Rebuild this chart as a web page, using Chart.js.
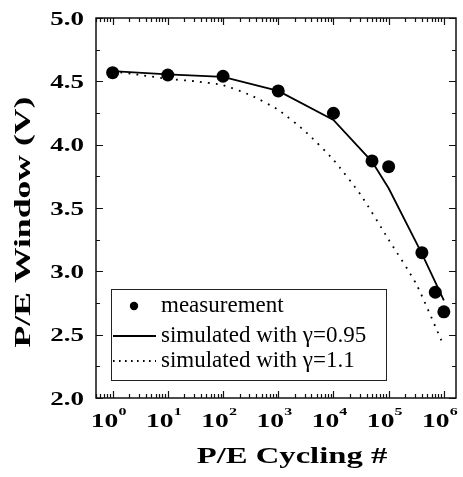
<!DOCTYPE html>
<html>
<head>
<meta charset="utf-8">
<script src="https://cdn.jsdelivr.net/npm/chart.js@4.4.1/dist/chart.umd.min.js"></script>
<style>
  html, body { margin: 0; padding: 0; background: #fff; }
</style>
</head>
<body>
<canvas id="chart" width="463" height="477"></canvas>
<script>
// ---------------- Data ----------------
const measCycles = [1, 10, 100, 1000, 10000, 50000, 100000, 400000, 700000, 1000000];
const measWindow = [4.568, 4.55, 4.54, 4.424, 4.248, 3.872, 3.826, 3.147, 2.835, 2.68];

const sim095Cycles = [1, 10, 100, 1000, 10000, 50000, 100000, 400000, 1000000];
const sim095Window = [4.58, 4.555, 4.535, 4.424, 4.195, 3.866, 3.656, 3.14, 2.77];

const sim11Cycles = [1, 3.16, 10, 31.6, 100, 316, 1000, 3162, 10000, 31623, 100000, 316228, 1000000];
const sim11Window = [4.58, 4.55, 4.52, 4.50, 4.47, 4.39, 4.275, 4.10, 3.88, 3.60, 3.25, 2.90, 2.41];

const seriesLabels = ["measurement", "simulated with \u03B3=0.95", "simulated with \u03B3=1.1"];
const xTitle = "P/E Cycling #";
const yTitle = "P/E Window (V)";

// ---------------- Helpers ----------------
function toPoints(xs, ys) {
  return xs.map((x, i) => ({ x: x, y: ys[i] }));
}

function decadeOf(v) {
  const e = Math.round(Math.log10(v));
  return Math.abs(v - Math.pow(10, e)) < 1e-9 * Math.pow(10, e) ? e : null;
}

function logKind(v) {
  const e = Math.floor(Math.log10(v) + 1e-9);
  const sig = v / Math.pow(10, e);
  if (Math.abs(sig - Math.round(sig)) > 1e-6) return null;
  return Math.round(sig) === 1 ? "major" : "minor";
}

function isHalf(v) {
  return Math.abs(v * 2 - Math.round(v * 2)) < 1e-6;
}

// ---------------- Plugins ----------------
const frameTicks = {
  id: "frameTicks",
  afterDatasetsDraw(chart) {
    const ctx = chart.ctx;
    const a = chart.chartArea;
    const xs = chart.scales.x, ys = chart.scales.y;
    ctx.save();
    ctx.strokeStyle = "#111";
    ctx.lineWidth = 1.2;

    xs.ticks.forEach(t => {
      const kind = logKind(t.value);
      if (!kind) return;
      const px = Math.round(xs.getPixelForValue(t.value)) + 0.5;
      if (px < a.left || px > a.right) return;
      const len = kind === "major" ? 7 : 4;
      ctx.beginPath();
      ctx.moveTo(px, a.bottom); ctx.lineTo(px, a.bottom - len);
      ctx.moveTo(px, a.top); ctx.lineTo(px, a.top + len);
      ctx.stroke();
    });

    ys.ticks.forEach(t => {
      const py = Math.round(ys.getPixelForValue(t.value)) + 0.5;
      const len = isHalf(t.value) ? 7 : 4;
      ctx.beginPath();
      ctx.moveTo(a.left, py); ctx.lineTo(a.left + len, py);
      ctx.moveTo(a.right, py); ctx.lineTo(a.right - len, py);
      ctx.stroke();
    });

    ctx.lineWidth = 1.5;
    ctx.strokeRect(a.left, a.top, a.right - a.left, a.bottom - a.top);
    ctx.restore();
  }
};

// tick labels in a wide bold serif, placed from the scales' own ticks
const tickLabels = {
  id: "tickLabels",
  afterDraw(chart) {
    const ctx = chart.ctx;
    const a = chart.chartArea;
    const xs = chart.scales.x, ys = chart.scales.y;
    ctx.save();
    ctx.fillStyle = "#000";
    ctx.textBaseline = "alphabetic";

    ys.ticks.forEach(t => {
      if (!isHalf(t.value)) return;
      const py = ys.getPixelForValue(t.value);
      ctx.save();
      ctx.translate(84, py + 6.5);
      ctx.scale(1.42, 1);
      ctx.font = 'bold 19px "Liberation Serif"';
      ctx.textAlign = "right";
      ctx.fillText(t.value.toFixed(1), 0, 0);
      ctx.restore();
    });

    xs.ticks.forEach(t => {
      const e = decadeOf(t.value);
      if (e === null || e < 0) return;
      const px = xs.getPixelForValue(t.value);
      if (px < a.left || px > a.right) return;
      ctx.save();
      ctx.translate(px - 8, 427);
      ctx.scale(1.45, 1);
      ctx.font = 'bold 19px "Liberation Serif"';
      ctx.textAlign = "center";
      ctx.fillText("10", 0, 0);
      ctx.font = 'bold 11px "Liberation Serif"';
      ctx.textAlign = "left";
      ctx.fillText(String(e), 9.6, -12);
      ctx.restore();
    });
    ctx.restore();
  }
};

const boxLegend = {
  id: "boxLegend",
  afterDatasetsDraw(chart) {
    const ctx = chart.ctx;
    const sets = chart.data.datasets;
    const rows = [306, 336, 361];
    ctx.save();
    ctx.fillStyle = "#fff";
    ctx.fillRect(111, 289, 275, 91);
    ctx.strokeStyle = "#222";
    ctx.lineWidth = 1;
    ctx.strokeRect(111.5, 289.5, 275, 91);

    sets.forEach((ds, i) => {
      const y = rows[i];
      if (ds.showLine === false) {
        ctx.beginPath();
        ctx.fillStyle = ds.pointBackgroundColor;
        ctx.arc(134, y, 4.2, 0, Math.PI * 2);
        ctx.fill();
      } else {
        ctx.beginPath();
        ctx.strokeStyle = ds.borderColor;
        ctx.lineWidth = ds.borderWidth;
        ctx.setLineDash(ds.borderDash ? [1.6, 4.4] : []);
        ctx.moveTo(113, y); ctx.lineTo(156, y);
        ctx.stroke();
        ctx.setLineDash([]);
      }
      ctx.fillStyle = "#000";
      ctx.font = '23px "Liberation Serif"';
      ctx.textBaseline = "middle";
      ctx.textAlign = "left";
      ctx.fillText(ds.label, 161, y);
    });
    ctx.restore();
  }
};

const axisTitles = {
  id: "axisTitles",
  afterDraw(chart) {
    const ctx = chart.ctx;
    ctx.save();
    ctx.fillStyle = "#000";
    ctx.font = 'bold 23px "Liberation Serif"';
    ctx.textAlign = "center";
    ctx.textBaseline = "middle";

    ctx.save();
    ctx.translate(292, 457);
    ctx.scale(1.42, 1);
    ctx.fillText(xTitle, 0, 0);
    ctx.restore();

    ctx.save();
    ctx.translate(24, 222);
    ctx.rotate(-Math.PI / 2);
    ctx.scale(1.55, 1);
    ctx.fillText(yTitle, 0, 0);
    ctx.restore();

    ctx.restore();
  }
};

// ---------------- Chart ----------------
new Chart(document.getElementById("chart"), {
  type: "line",
  data: {
    datasets: [
      {
        label: seriesLabels[0],
        data: toPoints(measCycles, measWindow),
        showLine: false,
        pointRadius: 6.5,
        pointBackgroundColor: "#000",
        pointBorderWidth: 0,
        borderColor: "#000"
      },
      {
        label: seriesLabels[1],
        data: toPoints(sim095Cycles, sim095Window),
        borderColor: "#000",
        borderWidth: 1.8,
        pointRadius: 0,
        tension: 0
      },
      {
        label: seriesLabels[2],
        data: toPoints(sim11Cycles, sim11Window),
        borderColor: "#000",
        borderWidth: 1.8,
        borderDash: [1.8, 6.2],
        pointRadius: 0,
        tension: 0.2
      }
    ]
  },
  options: {
    responsive: false,
    animation: false,
    events: [],
    layout: { padding: { top: 18, right: 7, left: 0, bottom: 0 } },
    plugins: {
      legend: { display: false },
      tooltip: { enabled: false }
    },
    scales: {
      x: {
        type: "logarithmic",
        min: 0.5,
        max: 1.66e6,
        grid: { display: false, drawTicks: false },
        border: { display: false },
        ticks: { display: false, autoSkip: false },
        afterFit: s => { s.height = 79; }
      },
      y: {
        min: 2,
        max: 5,
        grid: { display: false, drawTicks: false },
        border: { display: false },
        ticks: { display: false, stepSize: 0.25, autoSkip: false },
        afterFit: s => { s.width = 96; }
      }
    }
  },
  plugins: [frameTicks, tickLabels, boxLegend, axisTitles]
});
</script>
</body>
</html>
